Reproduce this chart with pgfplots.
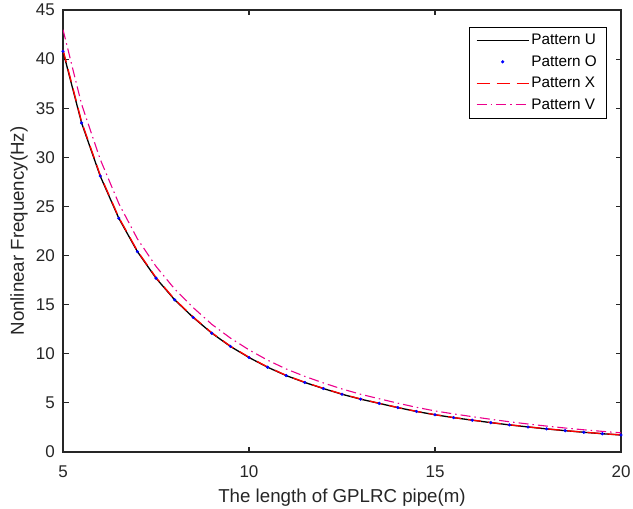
\documentclass[border=0pt]{standalone}
\usepackage{pgfplots}
\usepackage{pgfplotstable}
\pgfplotsset{compat=1.18}
\usepackage{fontspec}
\setmainfont{Liberation Sans}
\definecolor{axgray}{HTML}{262626}
\pgfplotstableread{
L    U      X      V
5.0  40.80  40.95  43.00
5.5  33.50  33.62  35.40
6.0  28.10  28.20  29.80
6.5  23.80  23.88  25.30
7.0  20.40  20.47  21.70
7.5  17.70  17.76  18.90
8.0  15.50  15.55  16.60
8.5  13.70  13.74  14.70
9.0  12.10  12.14  13.00
9.5  10.75  10.78  11.60
10.0  9.62   9.65  10.40
10.5  8.63   8.66   9.35
11.0  7.78   7.80   8.45
11.5  7.08   7.10   7.70
12.0  6.46   6.48   7.03
12.5  5.88   5.90   6.42
13.0  5.38   5.40   5.88
13.5  4.95   4.96   5.42
14.0  4.52   4.53   4.97
14.5  4.13   4.14   4.55
15.0  3.79   3.80   4.18
15.5  3.50   3.51   3.88
16.0  3.24   3.25   3.60
16.5  2.99   3.00   3.33
17.0  2.76   2.77   3.08
17.5  2.55   2.56   2.85
18.0  2.35   2.36   2.64
18.5  2.17   2.18   2.44
19.0  2.01   2.02   2.26
19.5  1.86   1.87   2.10
20.0  1.73   1.74   1.95
}\datatable
\begin{document}
\begin{tikzpicture}
\begin{axis}[
  scale only axis, width=558pt, height=442pt,
  xmin=5, xmax=20, ymin=0, ymax=45,
  xtick={5,10,15,20}, ytick={0,5,...,45},
  axis line style={axgray, line width=1.2pt},
  every tick/.style={axgray, line width=1.2pt},
  tick align=inside, major tick length=5.5pt,
  /pgf/number format/assume math mode=true,
  tick label style={font=\fontsize{17}{20}\selectfont, text=axgray},
  xticklabel style={anchor=base, inner sep=0pt, yshift=-25pt},
  yticklabel style={inner sep=0pt, xshift=-8pt},
  label style={font=\fontsize{18.7}{22}\selectfont, text=axgray},
  xlabel={The length of GPLRC pipe(m)},
  xlabel style={at={(axis description cs:0.5,0)}, anchor=base, yshift=-50pt, inner sep=0pt},
  ylabel={Nonlinear Frequency(Hz)},
  ylabel style={at={(axis description cs:-0.0627,0.5)}, anchor=south, inner sep=0pt},
  legend style={at={(1,1)}, anchor=north east, xshift=-15pt, yshift=-17pt,
    font=\fontsize{15.3}{18}\selectfont, fill=white, row sep=5.5pt,
    inner xsep=7pt, inner ysep=5pt},
  legend cell align=left,
  legend image code/.code={\draw[mark repeat=2,mark phase=2,#1] plot coordinates {(0pt,0pt) (26pt,0pt) (52pt,0pt)};},
]
\addplot[black, line width=1.3pt] table[x=L, y=U] {\datatable};
\addlegendentry{Pattern U}
\addplot[only marks, mark=*, mark size=1.4pt, blue] table[x=L, y=U] {\datatable};
\addlegendentry{Pattern O}
\addplot[red, line width=1.3pt, dash pattern=on 13pt off 7pt] table[x=L, y=X] {\datatable};
\addlegendentry{Pattern X}
\addplot[magenta, line width=1.1pt, dash pattern=on 10pt off 4pt on 1.5pt off 4pt] table[x=L, y=V] {\datatable};
\addlegendentry{Pattern V}
\end{axis}
\path ([xshift=-63pt,yshift=-56pt]current axis.south west) rectangle ([xshift=12pt,yshift=10pt]current axis.north east);
\end{tikzpicture}
\end{document}
